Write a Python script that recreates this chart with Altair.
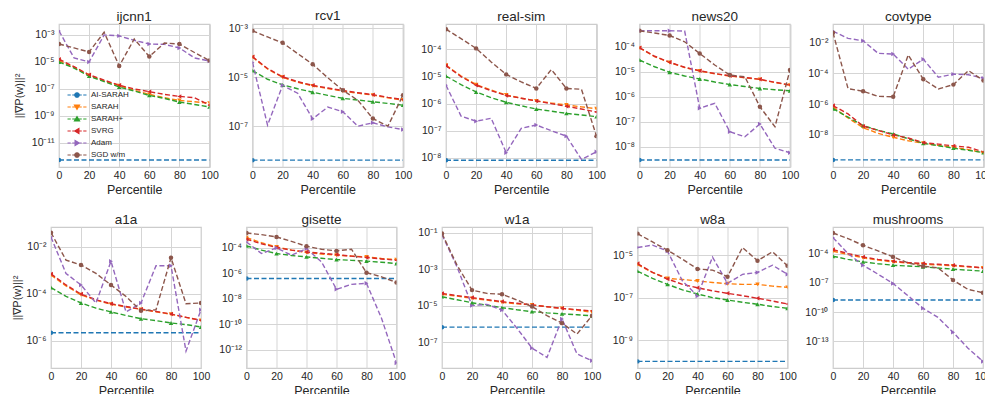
import altair as alt
import pandas as pd

FONT = "Liberation Sans"
TXT = "#262626"

PCT = [0, 10, 20, 30, 40, 50, 60, 70, 80, 90, 100]
X_TICKS = [0, 20, 40, 60, 80, 100]
SERIES = ["AI-SARAH", "SARAH", "SARAH+", "SVRG", "Adam", "SGD w/m"]
COLORS = ["#1f77b4", "#ff7f0e", "#2ca02c", "#d62728", "#9467bd", "#8c564b"]
MARKERS = ["circle", "triangle-down", "triangle-up", "triangle-left", "triangle-right", "circle"]
# percentiles at which each series shows a marker
MARK_AT = {"AI-SARAH": [0], "SARAH": X_TICKS, "SARAH+": X_TICKS, "SVRG": X_TICKS,
           "Adam": X_TICKS, "SGD w/m": X_TICKS}
Y_TITLE = "||∇P(w)||²"

# values are log10 of ||grad P(w)||^2, at PCT
ijcnn1 = {
    "AI-SARAH": [-12.26] * 11,
    "SARAH": [-4.9, -5.4, -6.0, -6.4, -6.75, -7.1, -7.4, -7.65, -7.85, -7.95, -8.05],
    "SARAH+": [-5.0, -5.45, -6.05, -6.45, -6.86, -7.15, -7.48, -7.7, -7.97, -8.15, -8.33],
    "SVRG": [-4.8, -5.35, -5.95, -6.35, -6.72, -7.0, -7.2, -7.4, -7.55, -7.65, -8.2],
    "Adam": [-2.7, -4.7, -5.0, -3.0, -3.07, -3.4, -3.67, -3.7, -3.96, -4.7, -4.93],
    "SGD w/m": [-3.67, -3.96, -4.26, -2.8, -5.3, -3.3, -4.6, -3.6, -3.67, -4.3, -4.9],
}
rcv1 = {
    "AI-SARAH": [-8.39] * 11,
    "SARAH": [-4.18, -4.66, -5.0, -5.2, -5.35, -5.46, -5.56, -5.65, -5.73, -5.84, -5.93],
    "SARAH+": [-4.73, -5.08, -5.31, -5.47, -5.61, -5.74, -5.86, -5.93, -6.0, -6.07, -6.14],
    "SVRG": [-4.16, -4.64, -4.98, -5.18, -5.33, -5.44, -5.54, -5.63, -5.71, -5.82, -5.91],
    "Adam": [-4.39, -6.96, -5.33, -5.65, -6.7, -6.22, -6.41, -7.0, -6.86, -7.03, -7.14],
    "SGD w/m": [-3.1, -3.35, -3.59, -4.03, -4.47, -5.02, -5.53, -5.94, -6.69, -7.0, -5.73],
}
real_sim = {
    "AI-SARAH": [-8.09] * 11,
    "SARAH": [-4.58, -4.98, -5.3, -5.5, -5.68, -5.8, -5.9, -5.98, -6.05, -6.12, -6.19],
    "SARAH+": [-4.98, -5.3, -5.57, -5.78, -5.95, -6.08, -6.2, -6.28, -6.36, -6.42, -6.48],
    "SVRG": [-4.6, -5.0, -5.32, -5.52, -5.7, -5.8, -5.9, -6.0, -6.1, -6.2, -6.31],
    "Adam": [-5.32, -6.46, -6.65, -6.54, -7.81, -6.91, -6.79, -7.0, -7.2, -8.06, -7.78],
    "SGD w/m": [-3.25, -3.6, -3.96, -4.46, -4.92, -5.2, -5.44, -4.74, -5.44, -5.47, -7.2],
}
news20 = {
    "AI-SARAH": [-8.53] * 11,
    "SARAH": [-4.05, -4.39, -4.63, -4.83, -4.97, -5.08, -5.17, -5.24, -5.31, -5.43, -5.54],
    "SARAH+": [-4.53, -4.8, -5.02, -5.17, -5.29, -5.41, -5.51, -5.59, -5.67, -5.72, -5.76],
    "SVRG": [-4.04, -4.38, -4.62, -4.82, -4.96, -5.07, -5.16, -5.23, -5.3, -5.42, -5.53],
    "Adam": [-3.36, -3.36, -3.36, -3.37, -6.46, -6.26, -7.4, -7.6, -7.09, -8.06, -8.24],
    "SGD w/m": [-3.36, -3.45, -3.55, -3.8, -4.27, -4.73, -5.13, -5.2, -6.4, -7.2, -4.93],
}
covtype = {
    "AI-SARAH": [-9.62] * 11,
    "SARAH": [-6.2, -6.9, -7.53, -7.9, -8.15, -8.38, -8.54, -8.68, -8.8, -8.95, -9.17],
    "SARAH+": [-6.3, -6.85, -7.4, -7.7, -7.94, -8.25, -8.54, -8.7, -8.86, -9.0, -9.15],
    "SVRG": [-6.1, -6.64, -7.43, -7.71, -8.0, -8.2, -8.5, -8.6, -8.71, -8.8, -9.1],
    "Adam": [-1.27, -1.74, -1.9, -2.71, -2.76, -3.74, -3.09, -4.26, -4.06, -4.1, -4.32],
    "SGD w/m": [-1.37, -5.0, -5.17, -5.5, -5.53, -2.82, -4.39, -5.02, -4.74, -3.83, -4.48],
}
a1a = {
    "AI-SARAH": [-5.66] * 11,
    "SARAH": [-3.2, -3.66, -4.04, -4.27, -4.44, -4.56, -4.66, -4.76, -4.87, -5.0, -5.13],
    "SARAH+": [-3.73, -4.11, -4.39, -4.61, -4.77, -4.92, -5.06, -5.14, -5.24, -5.31, -5.41],
    "SVRG": [-3.15, -3.62, -4.01, -4.25, -4.42, -4.54, -4.65, -4.75, -4.86, -5.0, -5.13],
    "Adam": [-1.58, -3.13, -3.62, -4.39, -2.61, -4.77, -4.39, -2.8, -2.8, -6.44, -4.68],
    "SGD w/m": [-1.39, -2.56, -2.77, -3.13, -3.62, -4.11, -4.72, -4.68, -2.46, -4.42, -4.39],
}
gisette = {
    "AI-SARAH": [-6.42] * 11,
    "SARAH": [-3.22, -3.62, -3.95, -4.2, -4.39, -4.5, -4.6, -4.67, -4.73, -4.86, -4.94],
    "SARAH+": [-3.87, -4.2, -4.47, -4.62, -4.73, -4.84, -4.94, -5.0, -5.06, -5.15, -5.25],
    "SVRG": [-3.35, -3.7, -4.0, -4.2, -4.34, -4.45, -4.55, -4.67, -4.78, -4.89, -4.99],
    "Adam": [-3.56, -4.47, -4.03, -4.6, -4.08, -5.12, -7.27, -6.88, -6.8, -9.53, -13.04],
    "SGD w/m": [-2.86, -2.99, -3.17, -3.51, -3.9, -4.13, -4.26, -4.13, -5.97, -6.29, -6.73],
}
w1a = {
    "AI-SARAH": [-6.18] * 11,
    "SARAH": [-4.38, -4.48, -4.6, -4.7, -4.82, -4.9, -4.96, -5.06, -5.15, -5.25, -5.36],
    "SARAH+": [-4.51, -4.68, -4.84, -4.98, -5.11, -5.23, -5.33, -5.4, -5.45, -5.5, -5.56],
    "SVRG": [-4.33, -4.45, -4.56, -4.67, -4.78, -4.87, -4.96, -5.06, -5.15, -5.22, -5.29],
    "Adam": [-1.11, -2.87, -5.0, -4.93, -5.24, -6.24, -7.33, -7.84, -5.73, -7.65, -8.02],
    "SGD w/m": [-1.05, -2.78, -4.15, -4.33, -4.38, -4.69, -5.05, -5.55, -5.96, -6.56, -5.55],
}
w8a = {
    "AI-SARAH": [-9.98] * 11,
    "SARAH": [-5.44, -5.81, -6.09, -6.14, -6.21, -6.28, -6.34, -6.37, -6.37, -6.45, -6.51],
    "SARAH+": [-5.75, -6.09, -6.37, -6.63, -6.82, -6.99, -7.1, -7.21, -7.3, -7.41, -7.49],
    "SVRG": [-5.39, -5.81, -6.12, -6.37, -6.53, -6.67, -6.79, -6.9, -7.02, -7.15, -7.29],
    "Adam": [-4.64, -4.53, -4.81, -6.21, -6.91, -5.09, -6.32, -5.9, -5.81, -5.47, -5.9],
    "SGD w/m": [-3.99, -4.38, -4.77, -5.19, -5.65, -5.7, -6.01, -4.64, -5.26, -4.84, -5.5],
}
mushrooms = {
    "AI-SARAH": [-8.76] * 11,
    "SARAH": [-3.76, -4.1, -4.44, -4.67, -4.85, -4.98, -5.09, -5.16, -5.26, -5.36, -5.46],
    "SARAH+": [-4.27, -4.6, -4.85, -5.04, -5.19, -5.28, -5.36, -5.48, -5.6, -5.7, -5.8],
    "SVRG": [-3.59, -4.0, -4.34, -4.6, -4.78, -4.92, -5.02, -5.1, -5.19, -5.32, -5.46],
    "Adam": [-2.37, -4.0, -5.19, -6.11, -7.06, -8.32, -9.61, -10.53, -12.06, -13.69, -15.05],
    "SGD w/m": [-1.89, -2.47, -3.15, -3.73, -4.34, -4.95, -5.29, -5.46, -6.72, -7.67, -8.01],
}

ROW1 = [("ijcnn1", ijcnn1), ("rcv1", rcv1), ("real-sim", real_sim), ("news20", news20), ("covtype", covtype)]
ROW2 = [("a1a", a1a), ("gisette", gisette), ("w1a", w1a), ("w8a", w8a), ("mushrooms", mushrooms)]

# y-axis range (log10) and labelled decades per panel
Y_RANGE = {
    "ijcnn1": (-12.78, -2.19), "rcv1": (-8.67, -2.82), "real-sim": (-8.34, -3.06),
    "news20": (-8.81, -3.09), "covtype": (-10.08, -0.81), "a1a": (-7.16, -1.15),
    "gisette": (-13.43, -2.39), "w1a": (-8.42, -0.69), "w8a": (-10.29, -3.68),
    "mushrooms": (-15.72, -1.28),
}
Y_TICKS = {
    "ijcnn1": [-3, -5, -7, -9, -11], "rcv1": [-3, -5, -7], "real-sim": [-4, -5, -6, -7, -8],
    "news20": [-4, -5, -6, -7, -8], "covtype": [-2, -4, -6, -8], "a1a": [-2, -4, -6],
    "gisette": [-4, -6, -8, -10, -12], "w1a": [-1, -3, -5, -7], "w8a": [-5, -7, -9],
    "mushrooms": [-4, -7, -10, -13],
}

# label "10" + superscript exponent
SUP = [("-", "⁻"), ("0", "⁰"), ("1", "¹"), ("2", "²"), ("3", "³"), ("4", "⁴"),
       ("5", "⁵"), ("6", "⁶"), ("7", "⁷"), ("8", "⁸"), ("9", "⁹")]
_e = "('' + round(log(datum.value) / LN10))"
for a, b in SUP:
    _e = "replace(%s, regexp('%s', 'g'), '%s')" % (_e, a, b)
LABEL_EXPR = "'10' + " + _e

# legend glyphs: dashed line with the marker in the middle
_LINE = "M-1.9,0H-1.25M-0.95,0H0.95M1.25,0H1.9"
LEG_PATHS = [
    _LINE + "M0.45,0A0.45,0.45,0,1,1,-0.45,0A0.45,0.45,0,1,1,0.45,0Z",
    _LINE + "M-0.5,-0.38L0.5,-0.38L0,0.45Z",
    _LINE + "M-0.5,0.38L0.5,0.38L0,-0.45Z",
    _LINE + "M0.38,-0.5L0.38,0.5L-0.45,0Z",
    _LINE + "M-0.38,-0.5L-0.38,0.5L0.45,0Z",
    _LINE + "M0.45,0A0.45,0.45,0,1,1,-0.45,0A0.45,0.45,0,1,1,0.45,0Z",
]

color_scale = alt.Scale(domain=SERIES, range=COLORS)
INDEP = dict(fill="independent", stroke="independent", shape="independent")


def panel(name, vals, width, height, first, with_legend, tpad):
    rows = []
    for i, s in enumerate(SERIES):
        for x, v in zip(PCT, vals[s]):
            rows.append({"pct": x, "val": 10.0 ** v, "series": s, "hex": COLORS[i],
                         "marker": MARKERS[i], "mk": x in MARK_AT[s]})
    df = pd.DataFrame(rows)
    lo, hi = Y_RANGE[name]
    x = alt.X("pct:Q", scale=alt.Scale(domain=[0, 100], nice=False, zero=False),
              axis=alt.Axis(values=X_TICKS, title="Percentile", format="d"))
    yax = dict(values=[10.0 ** t for t in Y_TICKS[name]], labelExpr=LABEL_EXPR,
               title=Y_TITLE if first else "", titlePadding=tpad)
    y = alt.Y("val:Q", scale=alt.Scale(type="log", domain=[10.0 ** lo, 10.0 ** hi], nice=False),
              axis=alt.Axis(**yax))
    col = alt.Color("hex:N", scale=None)
    base = alt.Chart(df)
    lines = base.mark_line(strokeDash=[5, 2.5], strokeWidth=1.4, clip=True).encode(
        x=x, y=y, color=col)
    pts = base.transform_filter("datum.mk").mark_point(
        filled=True, size=20, opacity=1, clip=True).encode(
        x=x, y=y, color=col, shape=alt.Shape("marker:N", scale=None))
    layers = [lines, pts]
    if with_legend:
        leg = alt.Legend(orient="none", legendX=12, legendY=65, title=None,
                         labelFontSize=8, labelFont=FONT, labelColor=TXT,
                         symbolSize=100, symbolStrokeWidth=1.2, symbolOpacity=1,
                         rowPadding=1, labelOffset=8, padding=0)
        # legend only: no row passes this filter, entries come from the scale domain
        hidden = base.transform_filter("datum.pct < 0").mark_point().encode(
            x=x, y=y,
            fill=alt.Fill("series:N", scale=color_scale, legend=leg, sort=SERIES),
            stroke=alt.Stroke("series:N", scale=color_scale, legend=leg, sort=SERIES),
            shape=alt.Shape("series:N", scale=alt.Scale(domain=SERIES, range=LEG_PATHS),
                            legend=leg, sort=SERIES),
        )
        layers.append(hidden)
    return alt.layer(*layers).properties(
        width=width, height=height,
        title=alt.TitleParams(name, fontSize=13.5, font=FONT, fontWeight="normal",
                              color=TXT, offset=1),
    )


# an empty strip that moves the first row a little to the right of the second
spacer = alt.Chart(pd.DataFrame({"a": [0]})).mark_text(text="").encode(
    x=alt.value(0), y=alt.value(0)
).properties(width=1, height=143, view=alt.ViewBackground(stroke="transparent"))

row1_panels = alt.hconcat(
    *[panel(n, v, 150.5, 143, i == 0, i == 0, 7) for i, (n, v) in enumerate(ROW1)],
    spacing=42.5, bounds="flush",
).resolve_scale(**INDEP).resolve_legend(**INDEP)
row1 = alt.hconcat(spacer, row1_panels, spacing=7, bounds="flush")
row2 = alt.hconcat(
    *[panel(n, v, 150, 141, i == 0, False, 3) for i, (n, v) in enumerate(ROW2)],
    spacing=45.5, bounds="flush",
).resolve_scale(**INDEP).resolve_legend(**INDEP)

chart = alt.concat(row1, row2, columns=1, align="none", spacing=14).properties(
    padding={"left": 3, "top": 0, "right": -8, "bottom": 0}
).configure_view(
    stroke="#cccccc", strokeWidth=1.25
).configure_axis(
    labelFont=FONT, titleFont=FONT, labelColor=TXT, titleColor=TXT,
    labelFontSize=10.5, titleFontSize=12.5, titleFontWeight="normal",
    domain=False, ticks=False, grid=True, gridColor="#d5d5d5", gridWidth=1,
    labelFlush=False, labelOverlap=False, labelBound=False,
).configure_axisX(
    labelPadding=3, titlePadding=3
).configure_axisY(
    labelPadding=5, titleFontSize=11
).configure_title(
    font=FONT, fontWeight="normal", color=TXT
)

chart.save("out.html", embed_options={"renderer": "svg", "actions": False})
